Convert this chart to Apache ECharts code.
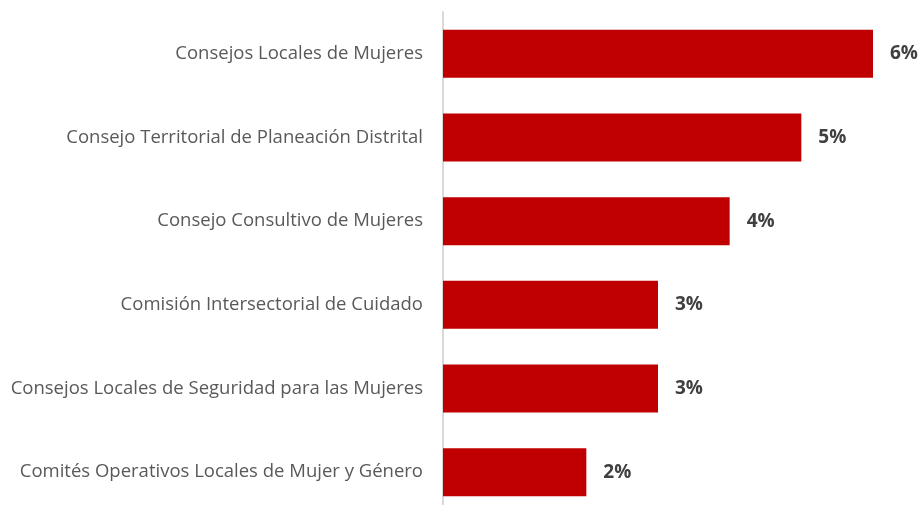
<!DOCTYPE html>
<html>
<head>
<meta charset="utf-8">
<script src="https://cdn.jsdelivr.net/npm/echarts@6/dist/echarts.min.js"></script>
<style>
  html, body { margin: 0; padding: 0; background: #fff; overflow: hidden; }
  /* el grafico original esta recortado abajo, por eso el div es mas alto que la ventana */
  #chart { width: 920px; height: 514px; }
</style>
</head>
<body>
<div id="chart"></div>
<script>
  // categorias (de arriba hacia abajo)
  var categories = [
    'Consejos Locales de Mujeres',
    'Consejo Territorial de Planeación Distrital',
    'Consejo Consultivo de Mujeres',
    'Comisión Intersectorial de Cuidado',
    'Consejos Locales de Seguridad para las Mujeres',
    'Comités Operativos Locales de Mujer y Género'
  ]
  var values = [6, 5, 4, 3, 3, 2] // porcentaje

  var myChart = echarts.init(document.getElementById('chart'))
  myChart.setOption({
    animation: false,
    grid: {
      left: 443,
      right: 47,
      top: 12,
      bottom: 0
    },
    xAxis: {
      type: 'value',
      min: 0,
      max: 6,
      show: false
    },
    yAxis: {
      type: 'category',
      inverse: true,
      data: categories,
      axisTick: { show: false },
      axisLine: { lineStyle: { color: '#d9d9d9', width: 2 } },
      axisLabel: {
        margin: 20,
        color: '#595959',
        fontSize: 18.5,
        fontFamily: 'Open Sans'
      }
    },
    series: [{
      type: 'bar',
      data: values,
      barWidth: 48,
      itemStyle: { color: '#c00000' },
      label: {
        show: true,
        position: 'right',
        distance: 17,
        formatter: '{c}%',
        color: '#404040',
        fontWeight: 'bold',
        fontSize: 19,
        fontFamily: 'Open Sans'
      }
    }]
  })
</script>
</body>
</html>
